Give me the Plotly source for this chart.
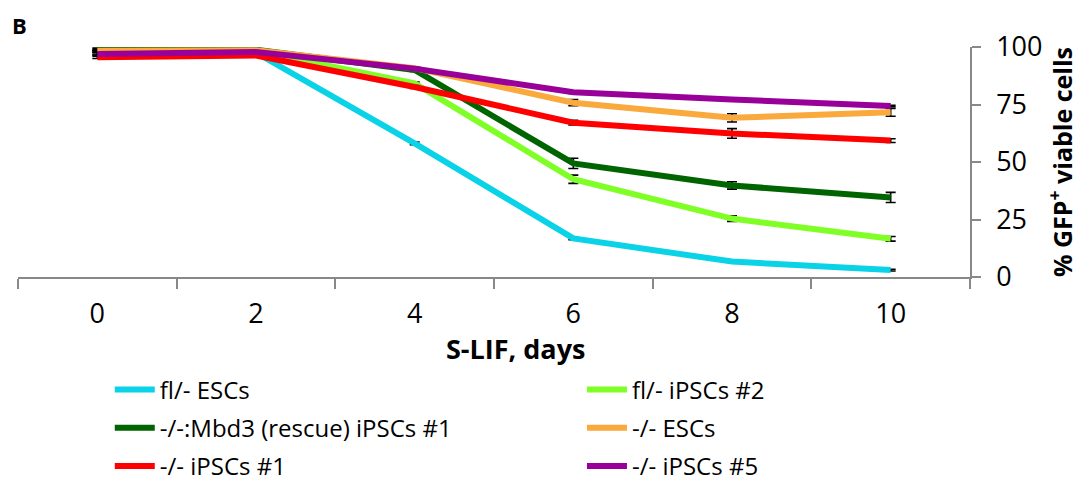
import plotly.graph_objects as go

days = ["0", "2", "4", "6", "8", "10"]
series_names = ["fl/- ESCs", "fl/- iPSCs #2", "-/-:Mbd3 (rescue) iPSCs #1",
                "-/- ESCs", "-/- iPSCs #1", "-/- iPSCs #5"]
fl_escs = [97.5, 97.5, 58.1, 16.8, 6.7, 3.0]
fl_ipscs2 = [98.0, 98.3, 84.2, 42.5, 25.4, 16.6]
rescue_ipscs1 = [99.0, 98.8, 90.0, 49.4, 39.8, 34.6]
ko_escs = [98.4, 98.6, 90.8, 75.8, 69.2, 71.6]
ko_ipscs1 = [95.5, 96.3, 82.6, 67.1, 62.4, 59.3]
ko_ipscs5 = [97.0, 97.8, 90.6, 80.3, 77.2, 74.3]
errors = [
    [1.0, 0.5, 0.6, 0.6, 0.3, 0.4],
    [0.5, 0.5, 0.6, 1.8, 1.2, 1.0],
    [0.5, 0.5, 0.6, 2.2, 1.6, 2.2],
    [0.5, 0.5, 0.6, 1.3, 1.8, 1.7],
    [0.5, 0.5, 0.6, 1.0, 2.1, 0.8],
    [0.5, 0.5, 0.6, 0.5, 0.3, 0.3],
]
colors = ["#0AD3E8", "#80FF26", "#006400", "#FAA93C", "#FF0000", "#990099"]
all_values = [fl_escs, fl_ipscs2, rescue_ipscs1, ko_escs, ko_ipscs1, ko_ipscs5]
legend_of = ["legend", "legend2", "legend", "legend2", "legend", "legend2"]
x_title = "S-LIF, days"
y_title = "% GFP<sup>+</sup> viable cells"
panel_label = "B"

FONT = "Open Sans"

fig = go.Figure()
for i, (name, vals, err, col) in enumerate(zip(series_names, all_values, errors, colors)):
    fig.add_trace(go.Scatter(
        x=days, y=vals, name=name, mode="lines",
        line=dict(color=col, width=6),
        legend=legend_of[i], legendgroup="g%d" % i,
        error_y=dict(type="data", array=err, visible=True, color="black",
                     thickness=1.6, width=5),
    ))

leg_common = dict(orientation="v", yanchor="top", xanchor="left",
                  font=dict(size=24, family=FONT, color="black"),
                  tracegroupgap=4, itemwidth=40, bgcolor="rgba(0,0,0,0)",
                  traceorder="grouped")

fig.update_layout(
    width=1081, height=474,
    margin=dict(l=10, r=119, t=39, b=205, autoexpand=False),
    paper_bgcolor="white", plot_bgcolor="white",
    font=dict(family=FONT, size=27, color="black"),
    showlegend=True,
    legend=dict(x=0.0964, y=-0.393, **leg_common),
    legend2=dict(x=0.5924, y=-0.393, **leg_common),
    xaxis=dict(type="category", categoryorder="array", categoryarray=days,
               range=[-0.5, 5.5], tickson="boundaries", ticks="outside",
               ticklen=10, tickcolor="#888888", tickwidth=1.5,
               showline=True, linecolor="#888888", linewidth=1.5,
               showgrid=False, zeroline=False, ticklabelstandoff=12,
               automargin=False, tickfont=dict(size=27)),
    yaxis=dict(side="right", range=[0, 100], tickvals=[0, 25, 50, 75, 100],
               ticks="outside", ticklen=9, tickcolor="#888888", tickwidth=1.5,
               showline=True, linecolor="#888888", linewidth=1.5,
               showgrid=False, zeroline=False, ticklabelstandoff=10,
               automargin=False, tickfont=dict(size=27),
               title=dict(text="<b>" + y_title + "</b>",
                          font=dict(size=25), standoff=8)),
    annotations=[
        dict(text="<b>" + panel_label + "</b>", xref="paper", yref="paper",
             x=-0.0084, y=1.0957, xanchor="left", yanchor="middle",
             showarrow=False, font=dict(size=22, family=FONT)),
        dict(text="<b>" + x_title + "</b>", xref="paper", yref="paper",
             x=0.523, y=-0.309, xanchor="center", yanchor="middle",
             showarrow=False, font=dict(size=27, family=FONT)),
    ],
)

fig.write_html("out.html")
